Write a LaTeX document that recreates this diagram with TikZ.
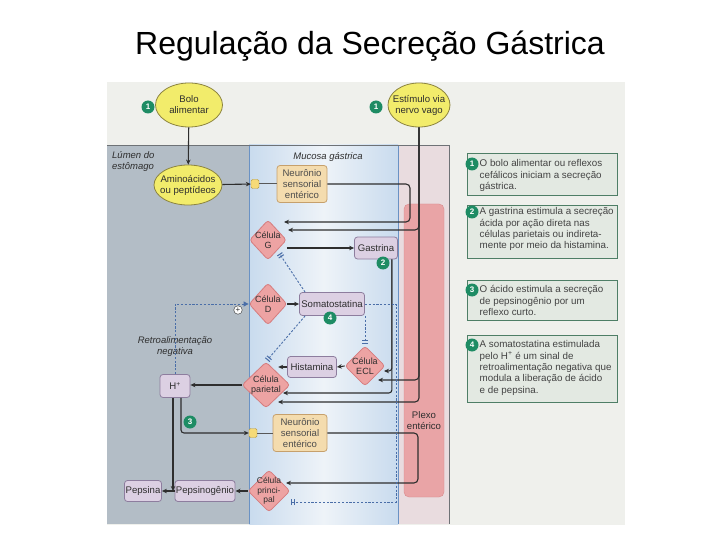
\documentclass[tikz,border=0pt]{standalone}
\usepackage{fontspec}
\setmainfont{Liberation Sans}
\usetikzlibrary{arrows.meta,shapes.geometric,calc}
\definecolor{scanbg}{HTML}{EFF0EC}
\definecolor{lumen}{HTML}{B3BDC6}
\definecolor{mucedge}{HTML}{C9DBEE}
\definecolor{mucmid}{HTML}{EEF3F8}
\definecolor{mucline}{HTML}{6A92C4}
\definecolor{strip}{HTML}{E9DCDF}
\definecolor{plexo}{HTML}{E9A4A6}
\definecolor{plexoline}{HTML}{D9898C}
\definecolor{ellfill}{HTML}{F2EC6B}
\definecolor{elldraw}{HTML}{8C8440}
\definecolor{numgreen}{HTML}{1E8C64}
\definecolor{dfill}{HTML}{EDA3A3}
\definecolor{ddraw}{HTML}{D57C7E}
\definecolor{pfill}{HTML}{DCD0E3}
\definecolor{pdraw}{HTML}{8D7D9E}
\definecolor{nfill}{HTML}{F4DCAE}
\definecolor{ndraw}{HTML}{C6A06C}
\definecolor{sqfill}{HTML}{F6DA78}
\definecolor{sqdraw}{HTML}{B89A40}
\definecolor{boxfill}{HTML}{E3E9E2}
\definecolor{boxdraw}{HTML}{4E7E66}
\definecolor{dashblue}{HTML}{4A6EA8}
\definecolor{ink}{HTML}{2E2E2E}
\definecolor{frameline}{HTML}{6E7276}
\begin{document}
\begin{tikzpicture}[x=1pt,y=-1pt,
  font=\fontsize{9.6}{11}\selectfont, text=ink,
  ell/.style={ellipse, draw=elldraw, fill=ellfill, line width=0.8pt, inner sep=0pt},
  elbl/.style={align=center, inner sep=0pt, text=ink},
  dia/.style={diamond, draw=ddraw, fill=dfill, line width=0.8pt, rounded corners=3pt, inner sep=0pt},
  dlbl/.style={align=center, inner sep=0pt, text=ink, font=\fontsize{9}{10}\selectfont},
  pur/.style={rectangle, rounded corners=3pt, draw=pdraw, fill=pfill, line width=0.8pt, inner sep=1pt, align=center},
  neu/.style={rectangle, rounded corners=3pt, draw=ndraw, fill=nfill, line width=0.8pt, inner sep=1pt, align=center, text=ink!85},
  sq/.style={rectangle, rounded corners=1.5pt, draw=sqdraw, fill=sqfill, minimum width=8pt, minimum height=9pt, inner sep=0pt},
  num/.style={circle, fill=numgreen, text=white, font=\fontsize{8}{8}\selectfont\bfseries, inner sep=0pt, minimum size=13pt},
  arr/.style={draw=ink, line width=1.1pt, -{Stealth[length=5pt,width=4.5pt]}},
  ln/.style={draw=ink!80, line width=1pt},
  dsh/.style={draw=dashblue, line width=0.9pt, dash pattern=on 2.2pt off 1.6pt},
  inh/.style={-{Bar[width=6pt,line width=1pt,sep=1.5pt]Bar[width=6pt,line width=1pt]}, shorten >=2pt},
  rbox/.style={rectangle, draw=boxdraw, fill=boxfill, line width=1.4pt, inner sep=0pt, anchor=north west},
  rtext/.style={align=left, inner sep=0pt, anchor=north west, font=\fontsize{9.8}{11.3}\selectfont, text=ink!90},
  plus/.style={circle, draw=ink, fill=white, inner sep=0pt, minimum size=8.5pt, font=\fontsize{8}{8}\selectfont}
]
\useasboundingbox (0,0) rectangle (720,540);
\fill[white] (0,0) rectangle (720,540);
\node[font=\fontsize{32}{36}\selectfont, anchor=base, text=black] (title) at (370,55) {Regulação da Secreção Gástrica};

% scanned figure background
\fill[scanbg] (107,82) rectangle (625,525);
\fill[lumen] (107,145) rectangle (249,524);
\shade[left color=mucedge, right color=mucedge, middle color=mucmid] (249,145) rectangle (398,524);
\fill[strip] (398,145) rectangle (449,524);
\draw[mucline, line width=0.8pt] (249,145) -- (249,524) (398,145) -- (398,524);
\draw[frameline, line width=0.8pt] (107,145) -- (449,145) -- (449,524);
\fill[plexo, draw=plexoline, rounded corners=5pt] (404,204) rectangle (444,497);

% region labels
\node[anchor=north west, align=left, font=\itshape\fontsize{9.5}{11}\selectfont, inner sep=0pt] (lumlbl) at (112,151) {Lúmen do\\estômago};
\node[font=\itshape\fontsize{9.5}{11}\selectfont] (muclbl) at (328,157) {Mucosa gástrica};
\node[align=center, font=\itshape\fontsize{9.5}{11}\selectfont] (retro) at (175,347) {Retroalimentação\\negativa};
\node[align=center] (plexolbl) at (424,421) {Plexo\\entérico};

% nodes
\node[ell, minimum width=67pt, minimum height=44pt, label={[elbl]center:{Bolo\\alimentar}}] (bolo) at (189,105) {};
\node[ell, minimum width=62pt, minimum height=44pt, label={[elbl]center:{Estímulo via\\nervo vago}}] (vago) at (419,105) {};
\node[ell, minimum width=68pt, minimum height=40pt, label={[elbl]center:{Aminoácidos\\ou peptídeos}}] (amino) at (188,185) {};
\node[sq] (sq1) at (255,184) {};
\node[neu, minimum width=50pt, minimum height=37pt] (neu1) at (302,184) {Neurônio\\sensorial\\entérico};
\node[dia, minimum width=37pt, minimum height=40pt, label={[dlbl]center:{Célula\\G}}] (cg) at (268,240) {};
\node[pur, minimum width=43pt, minimum height=22pt] (gas) at (376,248) {Gastrina};
\node[dia, minimum width=38pt, minimum height=42pt, label={[dlbl]center:{Célula\\D}}] (cd) at (268,304) {};
\node[pur, minimum width=65pt, minimum height=23pt] (som) at (332,304) {Somatostatina};
\node[dia, minimum width=40pt, minimum height=40pt, label={[dlbl]center:{Célula\\ECL}}] (ecl) at (365,366) {};
\node[pur, minimum width=49pt, minimum height=21pt] (his) at (312,367) {Histamina};
\node[dia, minimum width=48pt, minimum height=46pt, label={[dlbl]center:{Célula\\parietal}}] (cp) at (266,385) {};
\node[pur, minimum width=30pt, minimum height=23pt] (hp) at (175,386) {H\textsuperscript{+}};
\node[sq] (sq2) at (253,433) {};
\node[neu, minimum width=54pt, minimum height=37pt] (neu2) at (300,433) {Neurônio\\sensorial\\entérico};
\node[dia, minimum width=42pt, minimum height=42pt, label={[dlbl, font=\fontsize{8.5}{9.3}\selectfont]center:{Célula\\princi-\\pal}}] (cpr) at (269,491) {};
\node[pur, minimum width=59pt, minimum height=21pt] (pgn) at (205,491) {Pepsinogênio};
\node[pur, minimum width=37pt, minimum height=21pt] (pep) at (143,491) {Pepsina};

% coordinates
\coordinate (k1) at (410,222);
\coordinate (e1) at (284,222);
\coordinate (e2) at (288,230);
\coordinate (e3) at (378,380);
\coordinate (e4) at (278,402);
\coordinate (g0) at ($(gas.south east)+(-6,0)$);
\coordinate (e5) at (384,371);
\coordinate (e6) at (283,393);
\coordinate (k2) at (418,483);
\coordinate (e7) at (286,483);
\coordinate (k3) at (396,502);
\coordinate (e8) at (289,502);

% solid connectors
\draw[arr] (bolo) -- (amino);
\draw[arr] (amino) -- (sq1);
\draw[ln] (sq1) -- (neu1);
\draw[arr, rounded corners=4pt] (neu1.east) -| (k1) -- (e1);
\draw[arr, rounded corners=4pt] (vago.south) |- (e2);
\draw[arr, rounded corners=4pt] (vago.south) |- (e3);
\draw[arr, rounded corners=4pt] (vago.south) |- (e4);
\draw[arr] (cg.east |- gas.west) -- (gas.west);
\draw[arr, rounded corners=3pt] (g0) |- (e5);
\draw[arr, rounded corners=3pt] (g0) |- (e6);
\draw[arr] (cd.east) -- (som.west);
\draw[arr] (ecl.west) -- (his.east);
\draw[arr] (his.west) -- (his.west -| cp.north east);
\draw[arr] (cp.west) -- (cp.west -| hp.east);
\draw[arr] ([xshift=-2pt]hp.south) -- ([xshift=-2pt]hp.south |- pgn.west);
\draw[arr, rounded corners=3pt] ([xshift=6pt]hp.south) |- (sq2.west);
\draw[ln] (sq2) -- (neu2);
\draw[arr, rounded corners=4pt] (neu2.east) -| (k2) -- (e7);
\draw[arr] (cpr.west) -- (pgn.east);
\draw[arr] (pgn.west) -- (pep.east);

% dashed regulatory connectors
\draw[dsh, inh] ($(som.north west)+(6,0)$) -- ($(cg.south east)+(1,2)$);
\draw[dsh, inh] (som.south -| ecl.north) -- (ecl.north);
\draw[dsh, inh] ($(som.south west)+(6,0)$) -- (cp.north);
\draw[dsh, inh] (som.east) -| (k3) -- (e8);
\draw[dsh, -{Triangle[length=5pt,width=5pt]}] (hp.north) |- (cd.west);
\node[plus] (pl) at (238,310) {+};

% step numbers
\node[num] (n1a) at (148,107) {1};
\node[num] (n1b) at (376,107) {1};
\node[num] (n2) at (383,263) {2};
\node[num] (n4) at (330,318) {4};
\node[num] (n3) at (190,422) {3};

% explanation boxes
\node[rbox, minimum width=150pt, minimum height=42pt] (b1) at (467,153) {};
\node[rtext] (t1) at (479.5,159.5) {O bolo alimentar ou reflexos\\cefálicos iniciam a secreção\\gástrica.};
\node[num] (bn1) at (472,164) {1};
\node[rbox, minimum width=150pt, minimum height=53pt] (b2) at (467,205) {};
\node[rtext] (t2) at (479.5,207.5) {A gastrina estimula a secreção\\ácida por ação direta nas\\células parietais ou indireta-\\mente por meio da histamina.};
\node[num] (bn2) at (472,212) {2};
\node[rbox, minimum width=150pt, minimum height=40pt] (b3) at (467,280) {};
\node[rtext] (t3) at (479.5,285.5) {O ácido estimula a secreção\\de pepsinogênio por um\\reflexo curto.};
\node[num] (bn3) at (472,290) {3};
\node[rbox, minimum width=150pt, minimum height=67pt] (b4) at (467,335) {};
\node[rtext] (t4) at (479.5,340.5) {A somatostatina estimulada\\pelo H\textsuperscript{+} é um sinal de\\retroalimentação negativa que\\modula a liberação de ácido\\e de pepsina.};
\node[num] (bn4) at (472,345) {4};
\end{tikzpicture}
\end{document}
